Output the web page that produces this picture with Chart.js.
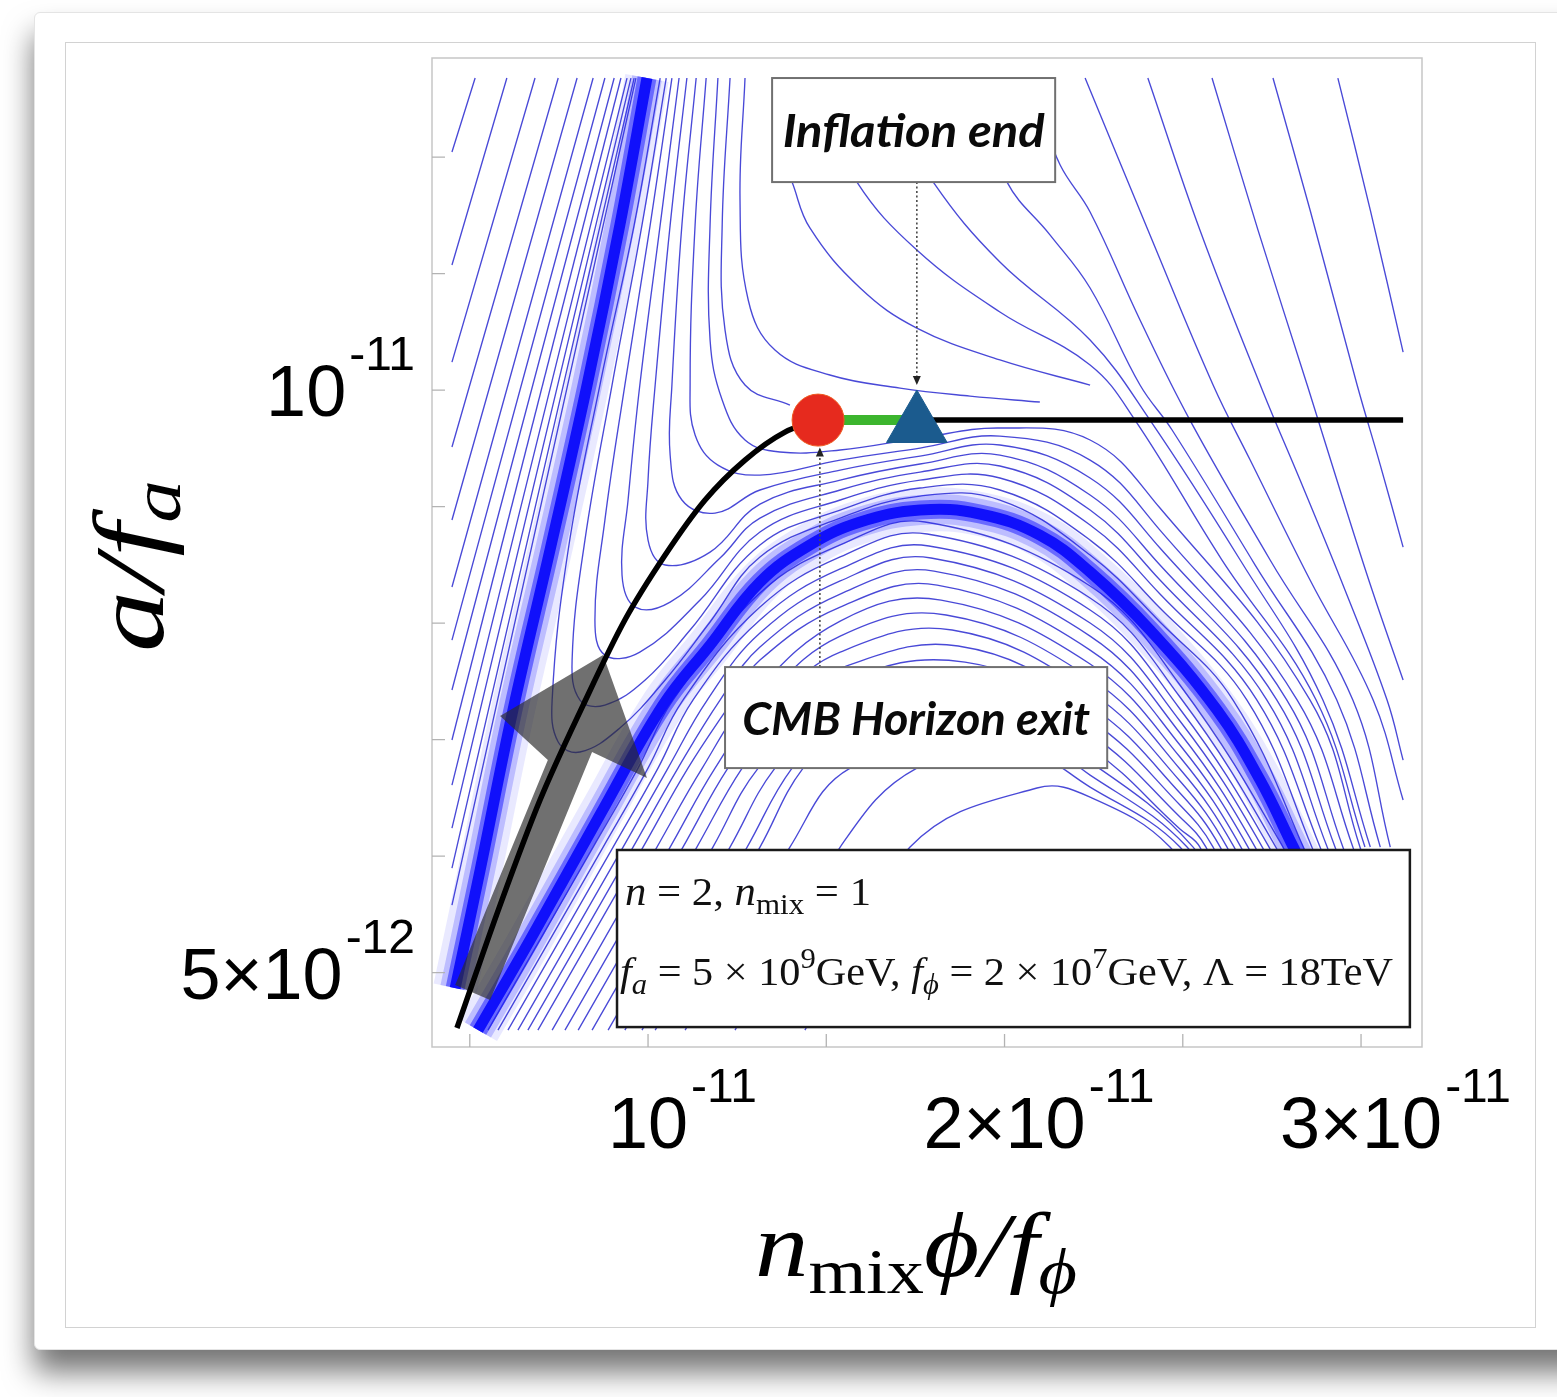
<!DOCTYPE html>
<html>
<head>
<meta charset="utf-8">
<title>Axion / inflaton stream plot</title>
<script src="https://cdn.jsdelivr.net/npm/chart.js@4.4.1/dist/chart.umd.min.js"></script>
<style>
  html, body { margin: 0; padding: 0; background: #fff; }
  body { width: 1557px; height: 1397px; position: relative; overflow: hidden; }
  #sheet { position: absolute; left: 34px; top: 12px; width: 1560px; height: 1336px; background: #fff;
           border: 1px solid #e4e4e4; border-radius: 6px; box-shadow: 0 22px 30px rgba(0,0,0,0.55); }
  #panel { position: absolute; left: 65px; top: 42px; width: 1469px; height: 1284px; border: 1.5px solid #d2d2d2; }
  canvas { position: absolute; left: 0; top: 0; }
</style>
</head>
<body>
<div id="sheet"></div>
<div id="panel"></div>
<canvas id="flow" width="1557" height="1397"></canvas>
<script>
// x in units of 1e-11 (n_mix phi / f_phi), y in units of 1e-12 (a / f_a)
const xRange = [0.394, 3.171];
const yRange = [4.361, 12.85];
const xTicks = [0.5, 1, 1.5, 2, 2.5, 3];
const yTicks = [5, 6, 7, 8, 9, 10, 11, 12];
const xTickLabels = [[1, '10', '-11'], [2, '2×10', '-11'], [3, '3×10', '-11']];
const yTickLabels = [[10, '10', '-11'], [5, '5×10', '-12']];

// streamlines left of the steep attractor
const leftLines = [
  [[0.450,12.043],[0.515,12.678]],
  [[0.450,11.073],[0.604,12.678]],
  [[0.450,10.240],[0.683,12.678]],
  [[0.450,9.511],[0.748,12.678]],
  [[0.450,8.884],[0.801,12.678]],
  [[0.450,8.309],[0.846,12.678]],
  [[0.450,7.854],[0.879,12.678]],
  [[0.450,7.425],[0.905,12.678]],
  [[0.450,6.996],[0.924,12.678]],
  [[0.450,6.609],[0.941,12.678]],
  [[0.450,6.240],[0.952,12.678]],
  [[0.450,5.897],[0.961,12.678]],
  [[0.450,5.579],[0.966,12.678]]
];

// lines coming down beside the steep band, turning along the arch
const upperFan = [
  [[1.034,12.678],[0.961,11.416],[0.865,10.043],[0.776,8.627],[0.731,7.339],[0.748,6.979],[0.809,6.893],[0.921,7.099],[1.048,7.511],[1.174,8.009],[1.314,8.567],[1.539,8.901],[1.763,9.090],[1.987,9.056],[2.240,8.584],[2.436,8.009],[2.641,7.339],[2.838,6.077],[2.885,5.622]],
  [[1.051,12.678],[0.983,11.416],[0.899,10.043],[0.823,8.712],[0.787,7.682],[0.809,7.339],[0.879,7.296],[0.992,7.511],[1.118,7.940],[1.314,8.670],[1.539,8.970],[1.763,9.159],[1.987,9.142],[2.240,8.712],[2.436,8.129],[2.680,7.339],[2.862,6.077],[2.913,5.622]],
  [[1.067,12.678],[1.006,11.416],[0.935,10.043],[0.879,8.884],[0.851,8.026],[0.879,7.725],[0.977,7.751],[1.146,8.197],[1.314,8.781],[1.539,9.056],[1.763,9.227],[1.987,9.245],[2.240,8.841],[2.436,8.249],[2.708,7.339],[2.885,6.077],[2.935,5.622]],
  [[1.087,12.678],[1.034,11.416],[0.977,10.043],[0.944,9.056],[0.927,8.412],[0.964,8.137],[1.062,8.180],[1.202,8.558],[1.314,8.901],[1.539,9.142],[1.763,9.296],[1.987,9.348],[2.240,8.970],[2.436,8.369],[2.736,7.339],[2.905,6.077],[2.955,5.622]],
  [[1.109,12.678],[1.062,11.416],[1.020,10.043],[1.000,9.227],[1.000,8.712],[1.048,8.498],[1.174,8.609],[1.314,9.021],[1.539,9.227],[1.763,9.365],[1.987,9.442],[2.240,9.099],[2.436,8.498],[2.764,7.339],[2.927,6.077],[2.975,5.622]],
  [[1.135,12.678],[1.095,11.416],[1.067,10.043],[1.062,9.442],[1.095,9.056],[1.188,8.944],[1.314,9.142],[1.539,9.313],[1.763,9.433],[1.987,9.528],[2.240,9.245],[2.436,8.644],[2.792,7.339],[2.949,6.077],[2.997,5.622]],
  [[1.163,12.678],[1.132,11.416],[1.118,10.043],[1.132,9.614],[1.196,9.356],[1.314,9.270],[1.539,9.399],[1.763,9.502],[1.987,9.605],[2.240,9.399],[2.436,8.798],[2.821,7.339],[2.977,6.077],[3.020,5.622]],
  [[1.196,12.678],[1.174,11.416],[1.174,10.429],[1.208,9.914],[1.272,9.571],[1.370,9.468],[1.539,9.485],[1.763,9.588],[1.987,9.674],[2.240,9.571],[2.436,8.987],[2.857,7.339],[2.997,6.077],[3.039,5.622]]
];

// lines bending over the plateau above the black trajectory
const saddleLines = [
  [[1.404,11.785],[1.454,11.391],[1.595,10.876],[1.754,10.532],[1.987,10.258],[2.240,10.043]],
  [[1.272,12.678],[1.258,11.631],[1.281,10.773],[1.356,10.343],[1.510,10.129],[1.707,10.017],[1.903,9.948],[2.099,9.897]],
  [[1.230,12.678],[1.208,11.416],[1.216,10.515],[1.272,10.043],[1.398,9.871]]
];

// descending lines on the right
const rightFan = [
  [[2.935,12.678],[3.026,11.545],[3.118,10.326]],
  [[2.753,12.678],[2.857,11.545],[2.989,10.043],[3.054,9.356],[3.118,8.652]],
  [[2.582,12.678],[2.711,11.373],[2.849,10.043],[2.941,9.142],[3.031,8.283],[3.118,7.511]],
  [[2.402,12.678],[2.548,11.373],[2.723,10.000],[2.829,9.227],[2.955,8.283],[3.073,7.339],[3.118,6.824]],
  [[2.226,12.678],[2.408,11.330],[2.585,10.043],[2.689,9.399],[2.857,8.369],[3.034,7.339],[3.118,6.481]],
  [[2.099,12.403],[2.156,11.931],[2.240,11.528],[2.380,10.601],[2.520,9.742],[2.745,8.541],[2.977,7.339],[3.082,6.077]],
  [[1.959,12.318],[2.007,11.785],[2.128,11.330],[2.240,10.876],[2.380,10.043],[2.470,9.657],[2.703,8.498],[2.932,7.339],[3.054,6.077]],
  [[1.749,12.146],[1.800,11.785],[1.987,11.099],[2.240,10.429],[2.408,9.742],[2.661,8.541],[2.893,7.339],[3.026,6.077]],
  [[1.553,12.146],[1.586,11.785],[1.754,11.202],[1.987,10.670],[2.240,10.215],[2.366,9.742],[2.610,8.541],[2.874,7.339],[3.011,6.077]]
];

// nested arches under the curved attractor
const lowerArches = [
  [[0.551,4.506],[0.846,6.077],[0.972,6.755],[1.070,7.339],[1.314,8.258],[1.539,8.670],[1.777,8.867],[2.240,8.318],[2.492,7.468],[2.781,6.077],[2.838,5.622]],
  [[0.579,4.506],[0.874,6.077],[1.000,6.755],[1.098,7.339],[1.314,8.137],[1.539,8.567],[1.783,8.764],[2.240,8.215],[2.492,7.365],[2.761,6.077],[2.818,5.622]],
  [[0.607,4.506],[0.902,6.077],[1.028,6.755],[1.126,7.339],[1.314,8.026],[1.539,8.464],[1.788,8.661],[2.240,8.112],[2.492,7.262],[2.742,6.077],[2.798,5.622]],
  [[0.635,4.506],[0.930,6.077],[1.056,6.755],[1.166,7.339],[1.314,7.914],[1.539,8.361],[1.794,8.558],[2.240,8.000],[2.492,7.159],[2.723,6.077],[2.779,5.622]],
  [[0.663,4.506],[0.958,6.077],[1.084,6.755],[1.202,7.339],[1.314,7.794],[1.539,8.249],[1.802,8.446],[2.240,7.888],[2.492,7.056],[2.703,6.077],[2.759,5.622]],
  [[0.691,4.506],[0.986,6.077],[1.112,6.755],[1.238,7.339],[1.314,7.682],[1.539,8.137],[1.811,8.326],[2.240,7.768],[2.492,6.953],[2.683,6.077],[2.739,5.622]],
  [[0.731,4.506],[1.025,6.077],[1.152,6.755],[1.281,7.339],[1.539,8.017],[1.822,8.197],[2.240,7.648],[2.492,6.850],[2.663,6.077],[2.720,5.622]],
  [[0.767,4.506],[1.062,6.077],[1.188,6.755],[1.324,7.339],[1.539,7.888],[1.836,8.069],[2.240,7.528],[2.492,6.747],[2.644,6.077],[2.700,5.622]],
  [[0.804,4.506],[1.098,6.077],[1.224,6.755],[1.366,7.339],[1.539,7.751],[1.853,7.940],[2.240,7.408],[2.492,6.644],[2.624,6.077],[2.680,5.622]],
  [[0.843,4.506],[1.137,6.077],[1.264,6.755],[1.412,7.339],[1.539,7.614],[1.870,7.803],[2.240,7.288],[2.492,6.541],[2.605,6.077],[2.661,5.622]],
  [[0.888,4.506],[1.182,6.077],[1.309,6.755],[1.539,7.468],[1.889,7.665],[2.240,7.167],[2.492,6.438],[2.585,6.077],[2.641,5.622]],
  [[0.935,4.506],[1.230,6.077],[1.356,6.755],[1.539,7.313],[1.912,7.528],[2.240,7.047],[2.492,6.335],[2.565,6.077],[2.621,5.622]],
  [[0.983,4.506],[1.278,6.077],[1.404,6.755],[1.539,7.150],[1.937,7.391],[2.240,6.927],[2.492,6.232],[2.548,6.077],[2.605,5.622]],
  [[1.020,4.506],[1.314,6.077],[1.435,6.755],[1.539,6.979],[1.968,7.253],[2.240,6.807],[2.529,6.077],[2.585,5.622]],
  [[1.104,4.506],[1.398,6.077],[1.567,6.755],[2.001,7.116],[2.240,6.695],[2.512,6.077],[2.568,5.622]],
  [[1.244,4.506],[1.539,6.077],[1.754,6.755],[2.043,6.910],[2.240,6.592],[2.492,6.077],[2.548,5.622]],
  [[1.440,4.506],[1.735,6.077],[2.091,6.584],[2.240,6.506],[2.464,6.077],[2.520,5.622]]
];

// the two attractors where streamlines pile up
const steepBand = [[0.459,4.867],[0.529,5.880],[0.621,7.253],[0.725,8.627],[0.829,10.043],[0.921,11.416],[0.997,12.678]];
const archBand = [[0.523,4.506],[0.669,5.279],[0.865,6.352],[1.042,7.296],[1.174,7.811],[1.314,8.352],[1.454,8.670],[1.595,8.867],[1.763,8.970],[1.931,8.936],[2.099,8.755],[2.240,8.438],[2.408,7.940],[2.596,7.253],[2.717,6.652],[2.810,6.077],[2.913,5.451]];

// inflationary trajectory
const inflationPath = [[0.464,4.524],[0.585,5.579],[0.697,6.481],[0.818,7.296],[0.935,8.026],[1.048,8.584],[1.160,9.056],[1.272,9.399],[1.384,9.639],[1.477,9.742]];
const observableLeg = [[1.477,9.742],[1.754,9.742]];
const afterInflation = [[1.754,9.742],[3.118,9.742]];
const horizonExit = [1.477, 9.742];
const inflationEnd = [1.754, 9.70];

// big translucent arrow showing the direction of motion
const motionArrow = [[0.874,7.725],[0.997,6.670],[0.843,6.893],[0.557,4.764],[0.459,4.893],[0.719,6.824],[0.585,7.202],[0.874,7.725]];

// annotation boxes [x0, x1, yTop, yBottom] and their pointers
const endBox = [1.348, 2.142, 12.678, 11.785];
const exitBox = [1.216, 2.288, 7.622, 6.755];
const paramBox = [0.913, 3.137, 6.052, 4.532];
const endPointer = [[1.754,11.785],[1.754,10.06]];
const exitPointer = [[1.482,7.622],[1.482,9.49]];

const pts = arr => arr.map(p => ({ x: p[0], y: p[1] }));

function thin(arr) {
  return { data: pts(arr), showLine: true, borderColor: 'rgba(48,48,210,0.88)', borderWidth: 1.35,
           pointRadius: 0, tension: 0.4, fill: false, order: 10 };
}
function band(arr) {
  return [[44, 'rgba(40,40,255,0.10)'], [30, 'rgba(30,30,255,0.22)'], [19, 'rgba(20,20,255,0.5)'], [11, '#0000f5']]
    .map(([w, c]) => ({ data: pts(arr), showLine: true, borderColor: c, borderWidth: w,
                        pointRadius: 0, tension: 0.4, fill: false, order: 9 }));
}

const datasets = [];
[...leftLines, ...upperFan, ...saddleLines, ...rightFan, ...lowerArches].forEach(l => datasets.push(thin(l)));
datasets.push(...band(steepBand), ...band(archBand));
datasets.push({ data: pts(motionArrow), showLine: true, borderWidth: 0, borderColor: 'rgba(0,0,0,0)',
                backgroundColor: 'rgba(44,44,44,0.68)', fill: 'shape', pointRadius: 0, tension: 0, order: 6 });
datasets.push({ data: pts(inflationPath), showLine: true, borderColor: '#000', borderWidth: 5.5,
                pointRadius: 0, cubicInterpolationMode: 'monotone', fill: false, order: 4 });
datasets.push({ data: pts(afterInflation), showLine: true, borderColor: '#000', borderWidth: 5.5,
                pointRadius: 0, tension: 0, fill: false, order: 4 });
datasets.push({ data: pts(observableLeg), showLine: true, borderColor: '#3cb52e', borderWidth: 10,
                pointRadius: 0, tension: 0, fill: false, order: 3 });
[endPointer, exitPointer].forEach(p => datasets.push({ data: pts(p), showLine: true, borderColor: '#4a4a4a',
                borderWidth: 1.6, borderDash: [2, 2.5], pointRadius: 0, tension: 0, fill: false, order: 5 }));
datasets.push({ data: pts([horizonExit]), showLine: false, pointStyle: 'circle', pointRadius: 26,
                backgroundColor: '#e62a1e', borderColor: '#ee5a20', borderWidth: 1, order: 2 });
datasets.push({ data: pts([inflationEnd]), showLine: false, pointStyle: 'triangle', pointRadius: 35,
                backgroundColor: '#1b5b8e', borderColor: '#1b5b8e', borderWidth: 1, order: 2 });

function fontOf(p, size, family) {
  return (p.it ? 'italic ' : '') + (p.b ? 'bold ' : '') + Math.round(size * (p.s || 1)) + 'px ' + family;
}
function drawRich(ctx, parts, size, family, x0, base, targetW) {
  let w = 0;
  parts.forEach(p => { ctx.font = fontOf(p, size, family); p.w = ctx.measureText(p.t).width; w += p.w; });
  const sx = targetW ? targetW / w : 1;
  ctx.save();
  ctx.translate(x0, base);
  ctx.scale(sx, 1);
  let cx = 0;
  parts.forEach(p => { ctx.font = fontOf(p, size, family); ctx.fillText(p.t, cx, p.dy || 0); cx += p.w; });
  ctx.restore();
  return w * sx;
}

const decor = {
  id: 'decor',
  afterDatasetsDraw(chart) {
    const { ctx, chartArea: a, scales: { x, y } } = chart;
    const X = v => x.getPixelForValue(v), Y = v => y.getPixelForValue(v);
    ctx.save();
    ctx.textBaseline = 'alphabetic';
    ctx.fillStyle = '#000';

    // frame and inward ticks
    ctx.strokeStyle = '#c6c6c6';
    ctx.lineWidth = 1.5;
    ctx.strokeRect(a.left, a.top, a.right - a.left, a.bottom - a.top);
    ctx.strokeStyle = '#b3b3b3';
    ctx.lineWidth = 1.3;
    ctx.beginPath();
    yTicks.forEach(v => { ctx.moveTo(a.left, Y(v)); ctx.lineTo(a.left + 13, Y(v)); });
    xTicks.forEach(v => { ctx.moveTo(X(v), a.bottom); ctx.lineTo(X(v), a.bottom - 13); });
    ctx.stroke();

    // small arrow heads on the dotted pointers
    ctx.fillStyle = '#222';
    const head = (px, py, dir) => {
      ctx.beginPath();
      ctx.moveTo(px, py);
      ctx.lineTo(px - 4, py - dir * 9);
      ctx.lineTo(px + 4, py - dir * 9);
      ctx.closePath();
      ctx.fill();
    };
    head(X(endPointer[1][0]), Y(endPointer[1][1]) + 2, 1);
    head(X(exitPointer[1][0]), Y(exitPointer[1][1]) - 2, -1);

    // annotation boxes
    const box = (b, stroke, lw) => {
      const x0 = X(b[0]), x1 = X(b[1]), y0 = Y(b[2]), y1 = Y(b[3]);
      ctx.fillStyle = '#fff';
      ctx.fillRect(x0, y0, x1 - x0, y1 - y0);
      ctx.strokeStyle = stroke;
      ctx.lineWidth = lw;
      ctx.strokeRect(x0, y0, x1 - x0, y1 - y0);
      return { x0, x1, y0, y1 };
    };
    const label = (r, text, width) => {
      ctx.fillStyle = '#0a0a0a';
      const parts = [{ t: text, it: 1, b: 1 }];
      const cx = (r.x0 + r.x1) / 2, base = (r.y0 + r.y1) / 2 + 17;
      drawRich(ctx, parts, 46, 'Lato, "Open Sans", sans-serif', cx - width / 2, base, width);
    };
    label(box(endBox, '#707070', 2), 'Inflation end', 262);
    label(box(exitBox, '#707070', 2), 'CMB Horizon exit', 348);

    const pr = box(paramBox, '#1a1a1a', 2.5);
    ctx.fillStyle = '#111';
    const serif = '"Liberation Serif", "Times New Roman", serif';
    drawRich(ctx, [{ t: 'n', it: 1 }, { t: ' = 2, ' }, { t: 'n', it: 1 }, { t: 'mix', s: 0.72, dy: 9 }, { t: ' = 1' }],
             40, serif, pr.x0 + 8, pr.y0 + 55, 246);
    drawRich(ctx, [{ t: 'f', it: 1 }, { t: 'a', it: 1, s: 0.72, dy: 9 }, { t: ' = 5 × 10' }, { t: '9', s: 0.72, dy: -17 },
                   { t: 'GeV, ' }, { t: 'f', it: 1 }, { t: 'ϕ', it: 1, s: 0.72, dy: 9 }, { t: ' = 2 × 10' },
                   { t: '7', s: 0.72, dy: -17 }, { t: 'GeV, Λ = 18TeV' }],
             40, serif, pr.x0 + 3, pr.y0 + 135, 773);

    // tick labels
    const sans = '"Liberation Sans", Arial, sans-serif';
    ctx.fillStyle = '#000';
    xTickLabels.forEach(([v, base, sup]) => {
      ctx.font = '72px ' + sans;
      const bw = ctx.measureText(base).width;
      const left = X(v) - bw / 2;
      ctx.fillText(base, left, 1148);
      ctx.font = '48px ' + sans;
      ctx.fillText(sup, left + bw + 3, 1102);
    });
    yTickLabels.forEach(([v, base, sup]) => {
      ctx.font = '48px ' + sans;
      const sw = ctx.measureText(sup).width;
      ctx.font = '72px ' + sans;
      const bw = ctx.measureText(base).width;
      const right = 415;
      const py = Y(v) + 26;
      ctx.fillText(base, right - sw - 3 - bw, py);
      ctx.font = '48px ' + sans;
      ctx.fillText(sup, right - sw, py - 46);
    });

    // axis titles
    drawRich(ctx, [{ t: 'n', it: 1 }, { t: 'mix', s: 0.7, dy: 17 }, { t: 'ϕ', it: 1 }, { t: '/', it: 1 },
                   { t: 'f', it: 1 }, { t: 'ϕ', it: 1, s: 0.7, dy: 17 }], 92, serif, 755, 1276, 322);
    ctx.save();
    ctx.translate(163, 652);
    ctx.rotate(-Math.PI / 2);
    drawRich(ctx, [{ t: 'a', it: 1 }, { t: '/', it: 1 }, { t: 'f', it: 1 }, { t: 'a', it: 1, s: 0.7, dy: 17 }],
             100, serif, 0, 0, 172);
    ctx.restore();

    ctx.restore();
  }
};

new Chart(document.getElementById('flow'), {
  type: 'scatter',
  data: { datasets },
  options: {
    responsive: false,
    animation: false,
    devicePixelRatio: 1,
    events: [],
    layout: { padding: { left: 432, top: 58, right: 135, bottom: 350 } },
    scales: {
      x: { type: 'linear', min: xRange[0], max: xRange[1], display: false },
      y: { type: 'linear', min: yRange[0], max: yRange[1], display: false }
    },
    plugins: { legend: { display: false }, tooltip: { enabled: false } }
  },
  plugins: [decor]
});
</script>
</body>
</html>
